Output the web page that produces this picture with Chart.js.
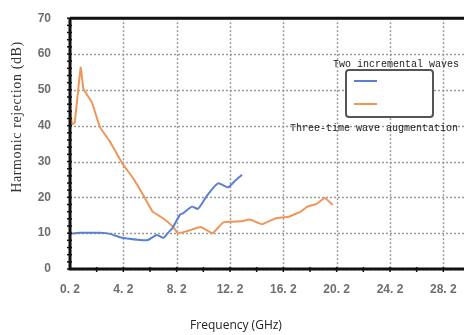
<!DOCTYPE html>
<html>
<head>
<meta charset="utf-8">
<script src="https://cdn.jsdelivr.net/npm/chart.js@4.4.0/dist/chart.umd.min.js"></script>
<style>
  html, body { margin: 0; padding: 0; background: #fff; }
  #wrap { width: 464px; height: 335px; position: relative; }
</style>
</head>
<body>
<div id="wrap"><canvas id="graph"></canvas></div>
<script>
// values
var xTicks = [0.2, 4.2, 8.2, 12.2, 16.2, 20.2, 24.2, 28.2];
var xTickLabels = ["0. 2", "4. 2", "8. 2", "12. 2", "16. 2", "20. 2", "24. 2", "28. 2"];
var yTicks = [0, 10, 20, 30, 40, 50, 60, 70];

var twoWaveFreq = [0.2, 0.95, 2.45, 3.2, 4.1, 5.45, 6.05, 6.7, 7.2, 7.55, 7.9, 8.45, 8.7, 9.35, 9.8, 10.5, 11.3, 12.05, 12.6, 13.1];
var twoWaveDb   = [9.8, 10.1, 10.1, 9.8, 8.7, 8.1, 8.1, 9.5, 8.7, 10.1, 11.5, 15.2, 15.6, 17.4, 16.8, 20.6, 23.9, 22.8, 24.7, 26.3];

var threeWaveFreq = [0.2, 0.35, 0.55, 1.0, 1.2, 1.5, 1.85, 2.45, 3.2, 4.1, 5.0, 5.7, 6.4, 7.2, 7.9, 8.3, 9.0, 10.0, 10.9, 11.7, 13.0, 13.7, 14.6, 15.6, 16.6, 17.5, 18.0, 18.7, 19.3, 19.9];
var threeWaveDb   = [45, 40.4, 40.8, 56.2, 50.4, 48.5, 46.4, 39.6, 35.5, 29.6, 25, 20.6, 16, 14.1, 11.9, 10.0, 10.6, 11.7, 10.0, 13.0, 13.3, 13.8, 12.5, 14.1, 14.6, 16.0, 17.4, 18.2, 19.8, 17.9];

var seriesNames = ["Two incremental waves", "Three-time wave augmentation"];

function toPoints(xs, ys) {
    return xs.map(function (x, i) { return { x: x, y: ys[i] }; });
}

// dotted grid, drawn under the lines
var gridPlugin = {
    id: "dotgrid",
    beforeDatasetsDraw: function (chart) {
        var ctx = chart.ctx;
        var a = chart.chartArea;
        var xs = chart.scales.x, ys = chart.scales.y;
        ctx.save();
        ctx.strokeStyle = "#9a9a9a";
        ctx.lineWidth = 1.5;
        ctx.setLineDash([2, 2]);
        xTicks.forEach(function (v) {
            var px = Math.round(xs.getPixelForValue(v)) + 0.5;
            ctx.beginPath(); ctx.moveTo(px, a.top); ctx.lineTo(px, a.bottom); ctx.stroke();
        });
        yTicks.forEach(function (v) {
            var py = Math.round(ys.getPixelForValue(v)) + 0.5;
            ctx.beginPath(); ctx.moveTo(a.left, py); ctx.lineTo(a.right, py); ctx.stroke();
        });
        ctx.restore();
    }
};

var framePlugin = {
    id: "frame",
    afterDraw: function (chart) {
        var ctx = chart.ctx;
        var a = chart.chartArea;
        var xs = chart.scales.x, ys = chart.scales.y;
        ctx.save();
        // minor ticks
        ctx.strokeStyle = "#111";
        ctx.lineWidth = 1.5;
        for (var v = 0; v <= 70; v += 2) {
            var py = ys.getPixelForValue(v);
            ctx.beginPath(); ctx.moveTo(a.left - 3, py); ctx.lineTo(a.left + 2, py); ctx.stroke();
        }
        for (var f = 2.2; f < 30; f += 2) {
            var px = xs.getPixelForValue(f);
            ctx.beginPath(); ctx.moveTo(px, a.bottom - 2); ctx.lineTo(px, a.bottom + 3); ctx.stroke();
        }
        // thick axes
        ctx.lineWidth = 3;
        ctx.beginPath();
        ctx.moveTo(a.left, a.top); ctx.lineTo(a.left, a.bottom); ctx.lineTo(a.right, a.bottom);
        ctx.moveTo(a.left, a.top); ctx.lineTo(a.right, a.top);
        ctx.stroke();

        // legend box
        ctx.fillStyle = "#fff";
        ctx.strokeStyle = "#555";
        ctx.lineWidth = 2;
        ctx.beginPath();
        ctx.roundRect(346, 70, 87, 47, 3);
        ctx.fill(); ctx.stroke();
        ctx.strokeStyle = chart.data.datasets[0].borderColor;
        ctx.beginPath(); ctx.moveTo(354, 81); ctx.lineTo(377, 81); ctx.stroke();
        ctx.strokeStyle = chart.data.datasets[1].borderColor;
        ctx.beginPath(); ctx.moveTo(354, 104); ctx.lineTo(377, 104); ctx.stroke();

        ctx.fillStyle = "#222";
        ctx.font = "10px 'Liberation Mono'";
        ctx.textAlign = "left";
        ctx.textBaseline = "alphabetic";
        ctx.fillText(seriesNames[0], 333, 67);
        ctx.fillText(seriesNames[1], 290, 131);

        // axis titles
        ctx.font = "12px 'Open Sans'";
        ctx.textAlign = "center";
        ctx.fillText("Frequency (GHz)", 236, 329);

        ctx.translate(21, 117);
        ctx.rotate(-Math.PI / 2);
        ctx.fillStyle = "#333";
        ctx.font = "14px 'Liberation Serif'";
        ctx.letterSpacing = "0.6px";
        ctx.fillText("Harmonic rejection (dB)", 0, 0);
        ctx.restore();
    }
};

var config = {
    type: "line",
    data: {
        datasets: [{
            label: seriesNames[0],
            data: toPoints(twoWaveFreq, twoWaveDb),
            borderColor: "#5a80d2",
            borderWidth: 2,
            pointRadius: 0,
            tension: 0.2
        }, {
            label: seriesNames[1],
            data: toPoints(threeWaveFreq, threeWaveDb),
            borderColor: "#f0955a",
            borderWidth: 2,
            pointRadius: 0,
            tension: 0.1
        }]
    },
    options: {
        animation: false,
        responsive: true,
        maintainAspectRatio: false,
        layout: { padding: { top: 11, left: 0, right: 0, bottom: 0 } },
        plugins: { legend: { display: false }, tooltip: { enabled: false } },
        scales: {
            x: {
                type: "linear",
                min: 0.2,
                max: 29.75,
                afterBuildTicks: function (scale) {
                    scale.ticks = xTicks.map(function (v) { return { value: v }; });
                },
                afterFit: function (scale) { scale.height = 66; },
                grid: { display: false },
                border: { display: false },
                ticks: {
                    autoSkip: false,
                    maxRotation: 0,
                    padding: 5,
                    color: "#6e6e6e",
                    font: { family: "'Liberation Sans'", size: 12, weight: "bold" },
                    callback: function (v) {
                        var i = xTicks.indexOf(v);
                        return i >= 0 ? xTickLabels[i] : "";
                    }
                }
            },
            y: {
                min: 0,
                max: 70,
                afterBuildTicks: function (scale) {
                    scale.ticks = yTicks.map(function (v) { return { value: v }; });
                },
                afterFit: function (scale) { scale.width = 70; },
                grid: { display: false },
                border: { display: false },
                ticks: {
                    padding: 11,
                    color: "#6e6e6e",
                    font: { family: "'Liberation Sans'", size: 12, weight: "bold" }
                }
            }
        }
    },
    plugins: [gridPlugin, framePlugin]
};

new Chart(document.getElementById("graph").getContext("2d"), config);
</script>
</body>
</html>
